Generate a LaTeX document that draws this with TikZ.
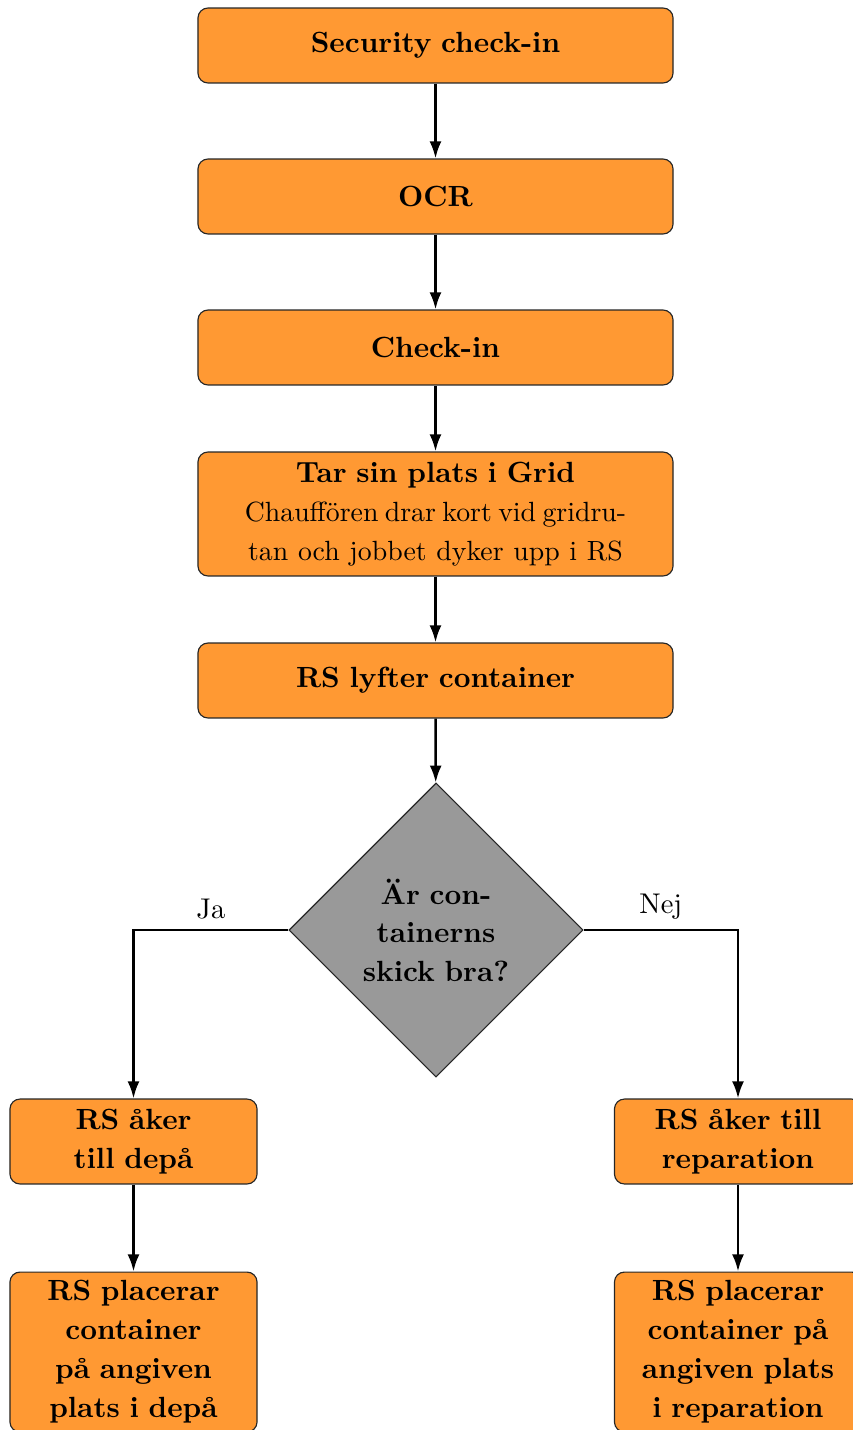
\documentclass[tikz,border=0pt]{standalone}
\usepackage{fontspec}
\usetikzlibrary{shapes.geometric,arrows.meta}
\definecolor{boxorange}{RGB}{255,153,51}
\definecolor{decgray}{RGB}{153,153,153}
\begin{document}
\begin{tikzpicture}[x=0.3509pt,y=-0.3509pt,
  stepbox/.style={rectangle, rounded corners=3.5pt, draw=black!85, fill=boxorange,
    align=center, inner sep=0pt, font={\fontsize{10.25}{13.7}\selectfont\bfseries}},
  wide/.style={stepbox, minimum width=166.7pt, minimum height=26.3pt, text width=160pt},
  narrow/.style={stepbox, minimum width=86.7pt, text width=82pt},
  decision/.style={diamond, aspect=1, draw=black!85, fill=decgray, inner sep=0pt,
    minimum width=103.2pt, minimum height=103.2pt, text width=62pt, align=center,
    font={\fontsize{10.25}{13.5}\selectfont\bfseries}},
  flow/.style={draw, line width=0.9pt, -{Latex[length=6pt,width=4.2pt]}},
  branchlabel/.style={font=\fontsize{10}{12}\selectfont}
]
\useasboundingbox (0,0) rectangle (852,1430);

% main sequence
\node[wide] (sec)   at (435.5,45.5)  {Security check-in};
\node[wide] (ocr)   at (435.5,196.5) {OCR};
\node[wide] (chk)   at (435.5,347.5) {Check-in};
\node[wide, minimum height=43.5pt] (grid) at (435.5,514)
  {Tar sin plats i Grid\\{\fontsize{9.75}{13.7}\selectfont\mdseries{\spaceskip=2.25pt Chauffören drar kort vid gridru-}\\tan och jobbet dyker upp i RS}};
\node[wide] (lift)  at (435.5,680.5) {RS lyfter container};

% decision
\node[decision] (dec) at (436,930) {Är con-\\tainerns\\skick bra?};

% branches
\node[narrow, minimum height=29.8pt] (depa)  at (133.5,1141.5) {RS åker\\till depå};
\node[narrow, minimum height=56.1pt] (depb)  at (133.5,1352)   {RS placerar\\container\\på angiven\\plats i depå};
\node[narrow, minimum height=29.8pt] (repa)  at (738,1141.5)   {RS åker till\\reparation};
\node[narrow, minimum height=56.1pt] (repb)  at (738,1352)     {RS placerar\\container på\\angiven plats\\i reparation};

% connectors
\draw[flow] (sec) -- (ocr);
\draw[flow] (ocr) -- (chk);
\draw[flow] (chk) -- (grid);
\draw[flow] (grid) -- (lift);
\draw[flow] (lift) -- (dec);
\draw[flow] (dec.west) -| node[pos=0.25, above, branchlabel] {Ja} (depa.north);
\draw[flow] (dec.east) -| node[pos=0.25, above, branchlabel] {Nej} (repa.north);
\draw[flow] (depa) -- (depb);
\draw[flow] (repa) -- (repb);
\end{tikzpicture}
\end{document}
